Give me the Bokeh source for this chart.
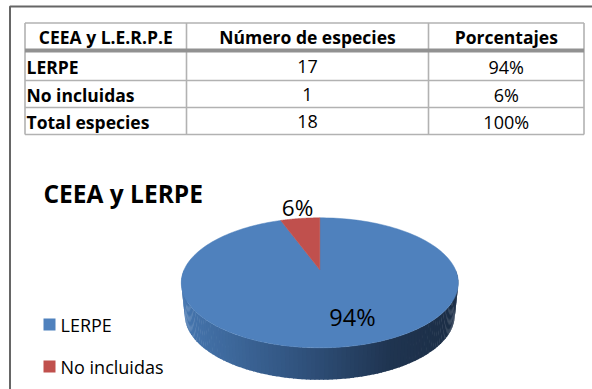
import math
from bokeh.plotting import figure
from bokeh.core.properties import value
from bokeh.embed import file_html
from bokeh.resources import INLINE

# ---- data ----
table_header = ["CEEA y L.E.R.P.E", "Número de especies", "Porcentajes"]
row_names = ["LERPE", "No incluidas", "Total especies"]
row_counts = ["17", "1", "18"]
row_pcts = ["94%", "6%", "100%"]
categories = ["LERPE", "No incluidas"]
species = [17, 1]
slice_labels = ["94%", "6%"]
colors = ["#4F81BD", "#C0504D"]

FONT = "Open Sans"
W, H = 592, 389
p = figure(width=W, height=H, x_range=(0, W), y_range=(H, 0), output_backend="svg",
           toolbar_location=None, min_border=0, margin=(0, 0, 0, 0))
p.axis.visible = False
p.grid.visible = False
p.outline_line_color = None
p.background_fill_color = "white"
p.border_fill_color = "white"

# outer frame (top and left only)
p.line([9.5, 9.5, W], [H, 6, 6], line_color="#666666", line_width=2)

# table
X = [24.5, 186, 428, 583.5]
Y = [22.5, 50, 80, 107, 134]
GR = "#B2B2B2"
p.multi_line([[x, x] for x in X], [[Y[0], Y[-1]] for _ in X], line_color=GR, line_width=1.6)
p.multi_line([[X[0], X[-1]] for _ in Y], [[y, y] for y in Y], line_color=GR, line_width=1.6)
p.line([X[0], X[-1]], [Y[1], Y[1]], line_color="#919191", line_width=4)


def txt(x, y, t, size, bold=False, align="center"):
    p.text([x], [y], text=[t], text_font=value(FONT), text_font_size=f"{size}px",
           text_font_style="bold" if bold else "normal", text_align=align,
           text_baseline="middle", text_color="black")


centers = [(X[i] + X[i + 1]) / 2 for i in range(3)]
for c, t in zip(centers, table_header):
    txt(c, 36.5, t, 17.5, True)
for i, y in enumerate([66, 94, 121]):
    txt(26, y, row_names[i], 17.5, True, "left")
    txt(centers[1], y, row_counts[i], 18)
    txt(centers[2], y, row_pcts[i], 18)

# title and legend
txt(43, 193, "CEEA y LERPE", 24.5, True, "left")
for cat, col, y in zip(categories, colors, [324, 366]):
    p.quad(left=[43], right=[55], top=[y - 6], bottom=[y + 6], fill_color=col, line_color=None)
    txt(60, y, cat, 18, False, "left")

# pie with perspective projection
CX, CY = 319.3, 269.3
A, K, B = 62.4, 0.2, 135.7


def top(theta):
    u, v = math.sin(theta), math.cos(theta)
    d = 1 + K * v
    return CX + B * u / d, CY - A * v / d


def base(theta):
    x, y = top(theta)
    return CX + (x - CX) * 0.975, y + 32


def side_color(x):
    stops = [(181, (70, 118, 175)), (300, (48, 82, 125)), (390, (31, 52, 80)), (458, (28, 46, 70))]
    for (x0, c0), (x1, c1) in zip(stops, stops[1:]):
        if x <= x1:
            f = max(0, (x - x0) / (x1 - x0))
            return "#%02x%02x%02x" % tuple(round(a + (b - a) * f) for a, b in zip(c0, c1))
    return "#1c2e46"


# side wall
n = 120
for i in range(n):
    t0 = math.pi / 2 + math.pi * i / n
    t1 = math.pi / 2 + math.pi * (i + 1.25) / n
    a, b, c, d = top(t0), top(t1), base(t1), base(t0)
    p.patch([a[0], b[0], c[0], d[0]], [a[1], b[1], c[1], d[1]],
            fill_color=side_color((a[0] + b[0]) / 2), line_color=None)

# top faces: first slice runs clockwise from 12 o'clock
total = sum(species)
start = 0.0
for val, col in zip(species, colors):
    sweep = 2 * math.pi * val / total
    m = 200
    pts = [top(start + sweep * j / m) for j in range(m + 1)]
    xs = [CX] + [q[0] for q in pts]
    ys = [CY] + [q[1] for q in pts]
    p.patch(xs, ys, fill_color=col, line_color=col, line_width=0.5)
    start += sweep

txt(352, 316, slice_labels[0], 23.5)
txt(297, 207, slice_labels[1], 22.5)

open("out.html", "w").write(file_html(p, INLINE))
